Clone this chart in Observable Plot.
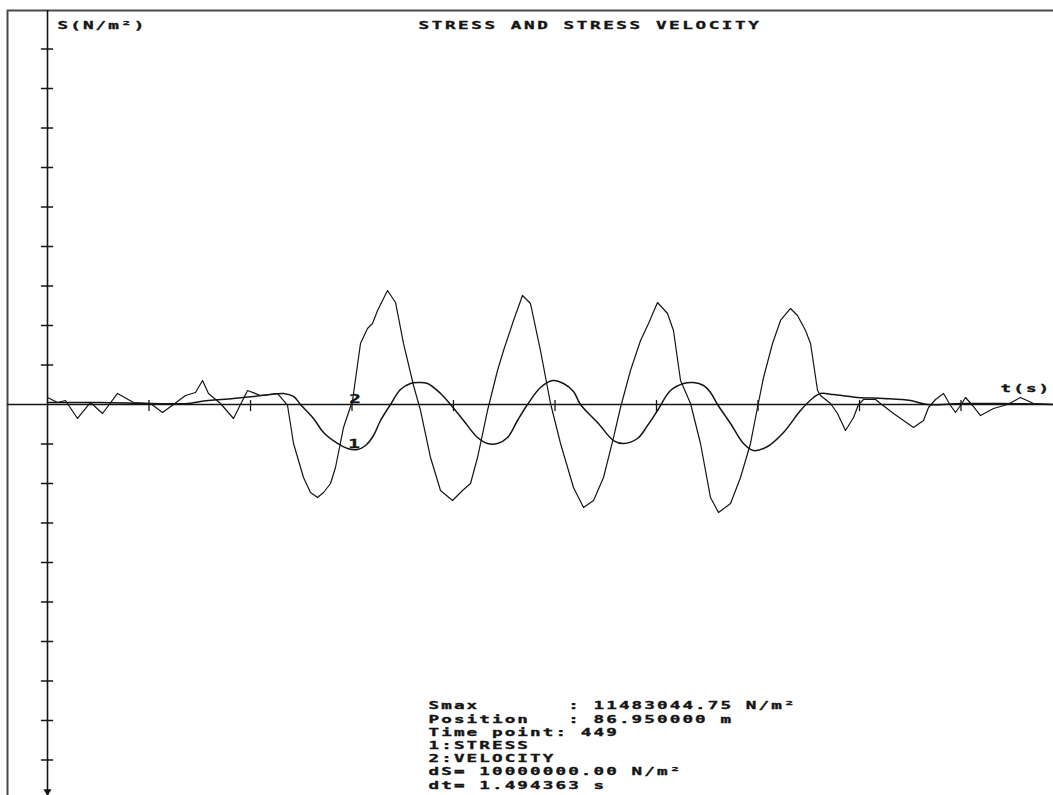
<!DOCTYPE html>
<html>
<head>
<meta charset="utf-8">
<script src="https://cdn.jsdelivr.net/npm/d3@7"></script>
<script src="https://cdn.jsdelivr.net/npm/@observablehq/plot@0.6"></script>
<style>
  html, body { margin: 0; padding: 0; background: #fff; }
  #chart svg { display: block; }
</style>
</head>
<body>
<div id="chart"></div>
<script>
// ---------- texts ----------
const titleText = "STRESS AND STRESS VELOCITY";
const yAxisLabel = "S(N/m²)";
const xAxisLabel = "t(s)";
const infoLines = [
  "Smax       : 11483044.75 N/m²",
  "Position   : 86.950000 m",
  "Time point: 449",
  "1:STRESS",
  "2:VELOCITY",
  "dS= 10000000.00 N/m²",
  "dt= 1.494363 s"
];
const curveLabelText = ["2", "1"];
const curveLabelT = [4.535, 4.52];
const curveLabelS = [0.5, -11.1];

// ---------- axes (t in s, S in MN/m²; one y tick = dS = 10 MN/m², one x tick = dt) ----------
const xDomain = [-0.589, 14.811];
const yDomain = [-98.99, 99.75];
const xTicks = [1.494, 2.989, 4.483, 5.977, 7.472, 8.966, 10.461, 11.955, 13.449];
const yTicks = [-90, -80, -70, -60, -50, -40, -30, -20, -10, 10, 20, 30, 40, 50, 60, 70, 80, 90];

// ---------- series 2: velocity ----------
const velT = [0,0.147,0.265,0.442,0.633,0.810,1.031,1.266,1.517,1.693,
  1.855,2.032,2.179,2.282,2.370,2.547,2.738,2.945,3.136,3.386,
  3.534,3.622,3.769,3.872,3.975,4.064,4.167,4.240,4.358,4.491,
  4.608,4.711,4.785,4.859,5.006,5.124,5.241,5.389,5.492,5.639,
  5.786,5.963,6.110,6.228,6.331,6.478,6.625,6.714,6.861,6.993,
  7.111,7.258,7.406,7.553,7.744,7.892,8.039,8.186,8.333,8.436,
  8.583,8.731,8.849,8.981,9.128,9.216,9.320,9.467,9.614,9.761,
  9.879,10.056,10.203,10.350,10.453,10.542,10.674,10.792,10.939,11.042,
  11.160,11.234,11.278,11.337,11.381,11.528,11.631,11.749,11.867,11.940,
  12.014,12.191,12.264,12.456,12.750,12.897,12.971,13.074,13.192,13.295,
  13.368,13.442,13.516,13.619,13.736,13.928,14.134,14.325,14.517,14.811];
const velV = [1.77,0.51,1.01,-3.54,0.51,-2.28,2.79,0.51,0.25,-2.03,
  0,2.28,3.04,6.08,2.79,0.25,-3.54,3.54,2.28,2.79,
  -0.25,-9.87,-18.48,-22.28,-23.55,-22.28,-20.00,-15.95,-5.82,1.01,
  15.45,19.24,20.51,23.80,28.86,25.83,15.45,4.81,-1.52,-13.42,
  -21.78,-24.31,-21.78,-20.00,-13.42,-1.52,8.61,13.67,21.27,27.60,
  25.57,13.67,0.25,-9.87,-21.02,-26.08,-24.31,-18.48,-8.36,-0.76,
  8.61,16.20,20.51,25.83,23.04,18.74,6.08,0.25,-9.87,-23.55,
  -27.35,-25.07,-18.48,-9.87,-0.76,6.84,15.45,21.27,24.31,22.53,
  18.74,15.45,10.38,3.54,2.28,0.25,-2.28,-6.58,-3.29,0,
  1.27,1.27,0.25,-2.28,-5.82,-4.05,-0.76,1.27,2.79,-0.25,
  -2.03,-0.25,1.77,-0.25,-2.79,-1.01,0,1.77,0.25,0];

// ---------- series 1: stress ----------
const stressT = [0,0.780,1.517,2.061,2.253,2.738,3.033,3.283,3.475,3.622,
  3.725,3.916,4.064,4.270,4.417,4.565,4.682,4.800,4.903,5.050,
  5.197,5.344,5.448,5.595,5.786,5.933,6.125,6.331,6.478,6.625,
  6.773,6.920,7.067,7.258,7.435,7.597,7.744,7.847,8.098,8.333,
  8.480,8.686,8.834,8.981,9.172,9.364,9.511,9.658,9.761,9.864,
  10.056,10.247,10.394,10.601,10.836,11.086,11.278,11.381,11.572,11.926,
  12.309,12.706,12.956,13.442,14.031,14.811];
const stressS = [0.51,0.51,0.25,0.25,0.76,1.52,2.03,2.53,2.79,2.03,
  0,-3.54,-7.09,-9.87,-11.14,-11.39,-10.38,-7.85,-4.05,0,
  3.80,5.32,5.57,5.32,2.79,0,-4.05,-8.36,-9.87,-9.87,
  -8.36,-4.05,0,4.30,6.08,5.32,3.29,0,-4.56,-9.12,
  -9.87,-8.61,-5.32,-1.52,3.54,5.32,5.57,4.81,3.04,0,
  -4.81,-9.87,-11.65,-10.63,-7.09,-1.52,1.77,2.79,2.53,1.77,
  1.52,1.01,0,0.25,0.25,0];

// ---------- tables ----------
const velocity = velT.map((t, i) => ({t, v: velV[i]}));
const stress = stressT.map((t, i) => ({t, s: stressS[i]}));
const curveLabels = curveLabelText.map((label, i) => ({label, t: curveLabelT[i], s: curveLabelS[i]}));

const INK = "#151515";
const FS = 11;
const font = {fontFamily: "DejaVu Sans Mono", fontWeight: "bold", fontSize: FS, fill: INK, stroke: INK, strokeWidth: 0.35, textAnchor: "start", lineAnchor: "bottom"};
const LINE = 13.2;

const chart = Plot.plot({
  width: 1053,
  height: 795,
  marginLeft: 7,
  marginRight: 0,
  marginTop: 10,
  marginBottom: 0,
  x: {domain: xDomain, axis: null},
  y: {domain: yDomain, axis: null},
  style: {background: "#fff", whiteSpace: "pre"},
  marks: [
    // outer frame (left and top)
    Plot.ruleX([xDomain[0]], {stroke: "#4a4a4a", strokeWidth: 2}),
    Plot.ruleY([yDomain[1]], {stroke: "#4a4a4a", strokeWidth: 2}),
    // axes
    Plot.ruleX([0], {stroke: INK, strokeWidth: 1.6}),
    Plot.ruleY([0], {stroke: INK, strokeWidth: 1.3}),
    Plot.ruleY(yTicks, {x1: -0.09, x2: 0.09, stroke: INK, strokeWidth: 1.5}),
    Plot.ruleX(xTicks, {y1: -1.8, y2: 1.0, stroke: INK, strokeWidth: 1.3}),
    Plot.dot([0], {x: d => d, frameAnchor: "bottom", dy: -4, symbol: "triangle", rotate: 180, r: 3, fill: INK, stroke: "none"}),
    // curves
    Plot.line(velocity, {x: "t", y: "v", stroke: INK, strokeWidth: 1.2}),
    Plot.line(stress, {x: "t", y: "s", curve: "catmull-rom", stroke: INK, strokeWidth: 1.5}),
    Plot.text(curveLabels, {x: "t", y: "s", text: "label", ...font, fontSize: 12, textAnchor: "middle"}),
    // labels
    Plot.text([titleText], {frameAnchor: "top-left", dx: 411, dy: 18, ...font}),
    Plot.text([yAxisLabel], {frameAnchor: "top-left", dx: 50, dy: 18, ...font}),
    Plot.text([xAxisLabel], {frameAnchor: "top-left", dx: 993, dy: 381, ...font}),
    ...infoLines.map((line, i) =>
      Plot.text([line], {frameAnchor: "top-left", dx: 421, dy: 788 - 10 - (infoLines.length - 1 - i) * LINE, ...font}))
  ]
});

// widen the glyphs horizontally to mimic the wide bitmap font of the original
const SX = 1.6;
chart.querySelectorAll("text").forEach(el => {
  const s = el.textContent;
  const fs = parseFloat(el.closest("g").getAttribute("font-size")) || FS;
  const pitch = s === titleText ? 13.2 : 12.7;
  const ls = pitch / SX - 0.602 * fs;
  el.setAttribute("letter-spacing", ls.toFixed(2));
  el.setAttributeNS("http://www.w3.org/XML/1998/namespace", "xml:space", "preserve");
  let tr = el.getAttribute("transform") || "";
  const x = el.getAttribute("x");
  if (x !== null) { el.removeAttribute("x"); tr += ` translate(${x},0)`; }
  el.setAttribute("transform", `${tr} scale(${SX},1)`);
});

document.getElementById("chart").appendChild(chart);
</script>
</body>
</html>
